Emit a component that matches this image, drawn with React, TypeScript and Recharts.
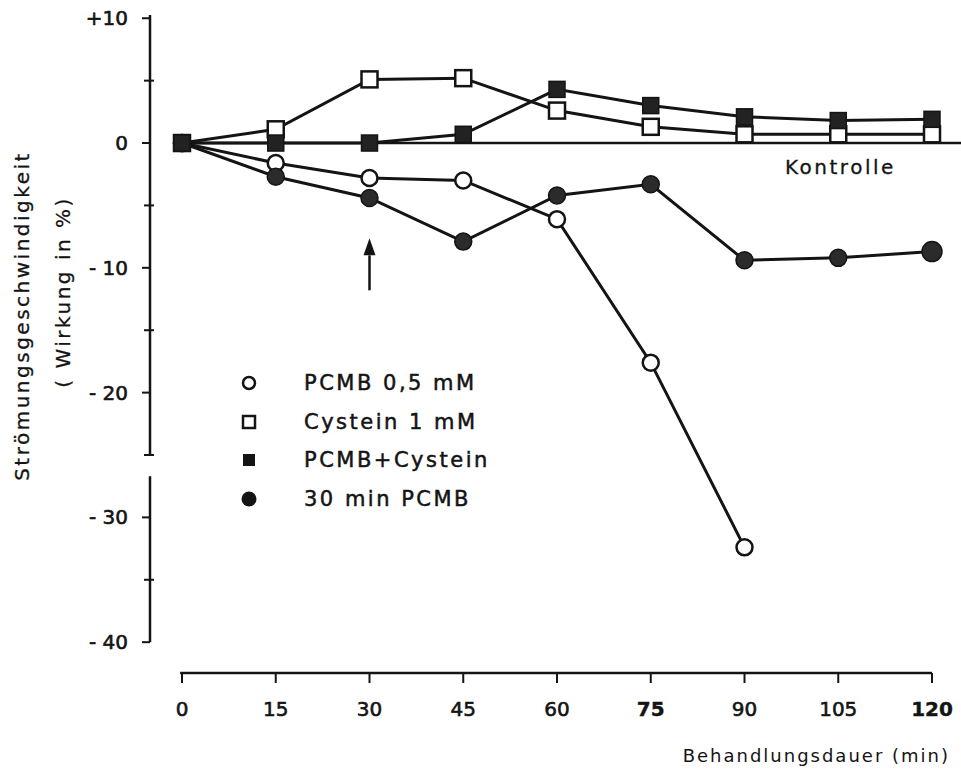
import React from "react";
import {
  ComposedChart,
  Line,
  XAxis,
  YAxis,
  ReferenceLine,
  ReferenceDot,
  Customized,
} from "recharts";

// Behandlungsdauer in min
const times = [0, 15, 30, 45, 60, 75, 90, 105, 120];

// Wirkung in %
const pcmb = [0, -1.6, -2.8, -3.0, -6.1, -17.6, -32.4];
const cystein = [0, 1.1, 5.1, 5.2, 2.6, 1.3, 0.7, 0.7, 0.7];
const pcmbCystein = [0, 0, 0, 0.7, 4.3, 3.0, 2.1, 1.8, 1.9];
const pcmb30 = [0, -2.7, -4.4, -7.9, -4.2, -3.3, -9.4, -9.2, -8.7];

const xTicks = [0, 15, 30, 45, 60, 75, 90, 105, 120];
const yTicks = [10, 5, 0, -5, -10, -15, -20, -25, -30, -35, -40];

const legendItems = ["PCMB 0,5 mM", "Cystein 1 mM", "PCMB+Cystein", "30 min PCMB"];

const data = times.map((t, i) => ({
  t,
  pcmb: pcmb[i] ?? null,
  cystein: cystein[i] ?? null,
  pcmbCystein: pcmbCystein[i] ?? null,
  pcmb30: pcmb30[i] ?? null,
}));

const INK = "#141414";
const FONT = "'DejaVu Sans', sans-serif";
const X_MIN = -5.12;
const X_MAX = 124.64;
const Y_MIN = -42.47;
const Y_MAX = 10.26;

const fmtY = (v: number) => {
  if (v > 0) return `+${v}`;
  if (v < 0) return `- ${Math.abs(v)}`;
  return "0";
};

const YTick = (props: any) => {
  const { x, y, payload } = props;
  const v = payload.value as number;
  const axisX = x + 22;
  const major = v % 10 === 0;
  return (
    <g>
      <line
        x1={major ? axisX - 8 : axisX - 6}
        x2={major ? axisX : axisX + 4}
        y1={y}
        y2={y}
        stroke={INK}
        strokeWidth={2}
      />
      {major && (
        <text
          x={x}
          y={y}
          textAnchor="end"
          dominantBaseline="central"
          fontFamily={FONT}
          fontSize={20}
          fill={INK}
          stroke={INK}
          strokeWidth={0.6}
        >
          {fmtY(v)}
        </text>
      )}
    </g>
  );
};

// the print has 75 and 120 heavier than the others
const XTick = (props: any) => {
  const { x, y, payload } = props;
  const heavy = payload.value === 75 || payload.value === 120;
  return (
    <text
      x={x}
      y={y}
      dy="0.71em"
      textAnchor="middle"
      fontFamily={FONT}
      fontSize={20}
      fontWeight={heavy ? "bold" : "normal"}
      fill={INK}
      stroke={INK}
      strokeWidth={heavy ? 0.4 : 0.6}
    >
      {payload.value}
    </text>
  );
};

const OpenCircle = (p: any) =>
  p.cx == null || p.cy == null ? null : (
    <circle key={p.key} cx={p.cx} cy={p.cy} r={8} fill="#fff" stroke={INK} strokeWidth={2.5} />
  );

const FilledCircle = (p: any) =>
  p.cx == null || p.cy == null ? null : (
    <circle
      key={p.key}
      cx={p.cx}
      cy={p.cy}
      r={p.index === 8 ? 10 : 8.5}
      fill="#2b2b2b"
      stroke={INK}
      strokeWidth={1.5}
    />
  );

const OpenSquare = (p: any) =>
  p.cx == null || p.cy == null ? null : (
    <rect key={p.key} x={p.cx - 8} y={p.cy - 8} width={16} height={16} fill="#fff" stroke={INK} strokeWidth={2.5} />
  );

const FilledSquare = (p: any) =>
  p.cx == null || p.cy == null ? null : (
    <rect key={p.key} x={p.cx - 8} y={p.cy - 8} width={16} height={16} fill="#222" stroke={INK} strokeWidth={1.5} />
  );

const ArrowHead = (p: any) => (
  <polygon
    points={`${p.cx},${p.cy - 17} ${p.cx - 6},${p.cy} ${p.cx + 6},${p.cy}`}
    fill={INK}
  />
);

const Annotations = () => {
  const rowY = [383, 422, 460, 499];
  const symX = 249;
  return (
    <g fontFamily={FONT} fill={INK}>
      {/* legend */}
      <circle cx={symX} cy={rowY[0]} r={6} fill="#fff" stroke={INK} strokeWidth={2.5} />
      <rect x={symX - 6} y={rowY[1] - 6} width={12} height={12} fill="#fff" stroke={INK} strokeWidth={2.5} />
      <rect x={symX - 6} y={rowY[2] - 6} width={12} height={12} fill={INK} />
      <circle cx={symX} cy={rowY[3]} r={7.5} fill={INK} />
      {legendItems.map((s, i) => (
        <text
          key={s}
          x={304}
          y={rowY[i]}
          dominantBaseline="central"
          fontSize={21}
          letterSpacing={2.5}
          stroke={INK}
          strokeWidth={0.5}
        >
          {s}
        </text>
      ))}
      {/* Kontrolle */}
      <text x={785} y={167} dominantBaseline="central" fontSize={20} letterSpacing={2.5} stroke={INK} strokeWidth={0.3}>
        Kontrolle
      </text>
      {/* axis titles */}
      <text
        x={950}
        y={755}
        textAnchor="end"
        dominantBaseline="central"
        fontSize={18}
        letterSpacing={2}
      >
        Behandlungsdauer (min)
      </text>
      <text
        transform="translate(22,316) rotate(-90)"
        textAnchor="middle"
        dominantBaseline="central"
        fontSize={20}
        letterSpacing={2.5}
        stroke={INK}
        strokeWidth={0.3}
      >
        Strömungsgeschwindigkeit
      </text>
      <text
        transform="translate(63,292) rotate(-90)"
        textAnchor="middle"
        dominantBaseline="central"
        fontSize={20}
        letterSpacing={2.5}
        stroke={INK}
        strokeWidth={0.3}
      >
        ( Wirkung in %)
      </text>
    </g>
  );
};

export default function App() {
  return (
    <div style={{ position: "absolute", left: 0, top: 0, width: 961, height: 777, background: "#fff" }}>
      <ComposedChart
        width={961}
        height={777}
        data={data}
        margin={{ top: 15, right: 0, bottom: 0, left: 0 }}
      >
        <XAxis
          dataKey="t"
          type="number"
          domain={[X_MIN, X_MAX]}
          ticks={xTicks}
          allowDataOverflow
          height={104}
          axisLine={false}
          tickSize={10}
          tickMargin={19}
          tickLine={{ stroke: INK, strokeWidth: 2 }}
          tick={<XTick />}
        />
        <YAxis
          type="number"
          domain={[Y_MIN, Y_MAX]}
          ticks={yTicks}
          allowDataOverflow
          width={150}
          axisLine={false}
          tickLine={false}
          tickSize={7}
          tickMargin={15}
          tick={<YTick />}
          interval={0}
        />
        {/* axes drawn as segments, like the print (y axis has a small break) */}
        <ReferenceLine
          segment={[{ x: X_MIN, y: Y_MAX }, { x: X_MIN, y: -25 }]}
          stroke={INK}
          strokeWidth={2.5}
          ifOverflow="visible"
        />
        <ReferenceLine
          segment={[{ x: X_MIN, y: -26.7 }, { x: X_MIN, y: -40 }]}
          stroke={INK}
          strokeWidth={2.5}
          ifOverflow="visible"
        />
        <ReferenceLine
          segment={[{ x: -0.3, y: Y_MIN }, { x: 120, y: Y_MIN }]}
          stroke={INK}
          strokeWidth={2.5}
          ifOverflow="visible"
        />
        {/* Kontrolle */}
        <ReferenceLine
          segment={[{ x: 0, y: 0 }, { x: X_MAX, y: 0 }]}
          stroke={INK}
          strokeWidth={2.5}
          ifOverflow="visible"
        />
        {/* arrow at 30 min */}
        <ReferenceLine
          segment={[{ x: 30, y: -11.8 }, { x: 30, y: -9.0 }]}
          stroke={INK}
          strokeWidth={2.5}
          ifOverflow="visible"
        />
        <ReferenceDot x={30} y={-9.0} r={1} shape={<ArrowHead />} ifOverflow="visible" />

        <Line dataKey="pcmb" stroke={INK} strokeWidth={3} dot={<OpenCircle />} activeDot={false} isAnimationActive={false} />
        <Line dataKey="pcmb30" stroke={INK} strokeWidth={3} dot={<FilledCircle />} activeDot={false} isAnimationActive={false} />
        <Line dataKey="cystein" stroke={INK} strokeWidth={3} dot={<OpenSquare />} activeDot={false} isAnimationActive={false} />
        <Line dataKey="pcmbCystein" stroke={INK} strokeWidth={3} dot={<FilledSquare />} activeDot={false} isAnimationActive={false} />
        <Customized component={Annotations} />
      </ComposedChart>
    </div>
  );
}
